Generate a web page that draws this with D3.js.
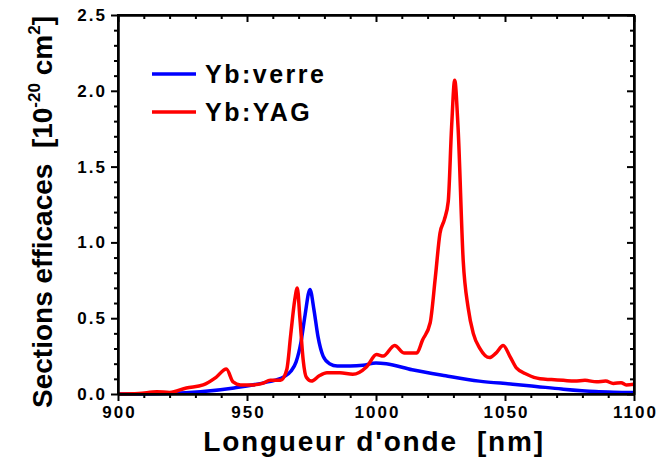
<!DOCTYPE html>
<html>
<head>
<meta charset="utf-8">
<script src="https://cdn.jsdelivr.net/npm/d3@7"></script>
<style>
body { margin: 0; background: #fff; }
text { font-family: "Liberation Sans", Arial, sans-serif; font-weight: bold; white-space: pre; }
</style>
</head>
<body>
<svg id="chart" width="660" height="463"></svg>
<script>
// Yb:verre (blue)
var verreNm  = [900, 910, 920, 932, 945, 958, 964, 967, 969, 971, 972.5, 974.4, 976, 977.5, 979.5, 982, 985, 990, 995, 1000, 1004, 1014, 1027, 1040, 1053, 1062, 1072, 1085, 1092, 1100];
var verreVal = [0, 0, 0.003, 0.015, 0.04, 0.08, 0.11, 0.15, 0.21, 0.35, 0.52, 0.69, 0.55, 0.38, 0.25, 0.2, 0.185, 0.185, 0.19, 0.205, 0.2, 0.16, 0.12, 0.085, 0.065, 0.05, 0.033, 0.016, 0.012, 0.01];

// Yb:YAG (red)
var yagNm  = [900, 908, 915, 920, 926.5, 933, 938, 942, 944.6, 947.5, 952, 956, 959, 963, 965.4, 967, 968.5, 969.5, 970.5, 971.8, 973, 975, 978, 981, 986, 991, 996.4, 1000.2, 1002.8, 1007.2, 1011, 1015.8, 1018, 1021, 1023, 1024.8, 1026.5, 1028, 1029.3, 1030.5, 1031.8, 1033.8, 1035.7, 1037.7, 1040.3, 1044, 1046.5, 1049.3, 1052, 1054.5, 1058.4, 1063.6, 1068, 1072.6, 1077, 1081, 1085.5, 1089, 1092, 1095, 1097, 1100];
var yagVal = [0, 0.003, 0.015, 0.01, 0.04, 0.06, 0.11, 0.165, 0.08, 0.06, 0.06, 0.07, 0.09, 0.09, 0.16, 0.4, 0.62, 0.7, 0.5, 0.22, 0.11, 0.085, 0.12, 0.14, 0.14, 0.13, 0.18, 0.26, 0.25, 0.32, 0.27, 0.27, 0.355, 0.47, 0.77, 1.06, 1.15, 1.27, 1.76, 2.07, 1.76, 0.88, 0.57, 0.4, 0.3, 0.24, 0.27, 0.32, 0.245, 0.17, 0.13, 0.1, 0.095, 0.09, 0.085, 0.09, 0.08, 0.085, 0.07, 0.075, 0.06, 0.065];

var xTicks = [900, 950, 1000, 1050, 1100];
var yTicks = [0, 0.5, 1.0, 1.5, 2.0, 2.5];
var legendNames = ["Yb:verre", "Yb:YAG"];
var colors = ["#0000ff", "#ff0000"];

var mLeft = 118, mRight = 634, mTop = 15, mBottom = 394;
var svg = d3.select("#chart");

var x = d3.scaleLinear().domain([900, 1100]).range([mLeft, mRight]);
var y = d3.scaleLinear().domain([0, 2.5]).range([mBottom, mTop]);

// data lines
var line = d3.line().curve(d3.curveMonotoneX).x(function(d) { return x(d[0]); }).y(function(d) { return y(d[1]); });
var series = [d3.zip(verreNm, verreVal), d3.zip(yagNm, yagVal)];
series.forEach(function(s, i) {
  svg.append("path").datum(s).attr("d", line)
    .attr("fill", "none").attr("stroke", colors[i]).attr("stroke-width", 3.5)
    .attr("stroke-linejoin", "round");
});

// axes
var minorX = d3.range(900, 1101, 10).filter(function(v) { return v % 50 != 0; });
var minorY = d3.range(0, 26, 1).map(function(v) { return v / 10; }).filter(function(v, i) { return i % 5 != 0; });

function styleAxis(g) {
  g.selectAll("path").attr("stroke", "#000").attr("stroke-width", 2);
  g.selectAll("line").attr("stroke", "#000").attr("stroke-width", 2);
  g.selectAll("text").attr("font-size", 17).attr("letter-spacing", 2).attr("fill", "#000");
}

// bottom
svg.append("g").attr("transform", "translate(0," + mBottom + ")")
  .call(d3.axisBottom(x).tickValues(minorX).tickSize(4).tickFormat("").tickSizeOuter(0)).call(styleAxis);
svg.append("g").attr("transform", "translate(0," + mBottom + ")")
  .call(d3.axisBottom(x).tickValues(xTicks).tickSize(7).tickPadding(5).tickFormat(d3.format("d")).tickSizeOuter(0)).call(styleAxis)
  .selectAll("text").attr("dx", 1);
// top
svg.append("g").attr("transform", "translate(0," + mTop + ")")
  .call(d3.axisBottom(x).tickValues(minorX).tickSize(4).tickFormat("").tickSizeOuter(0)).call(styleAxis);
svg.append("g").attr("transform", "translate(0," + mTop + ")")
  .call(d3.axisBottom(x).tickValues(xTicks).tickSize(7).tickFormat("").tickSizeOuter(0)).call(styleAxis);
// left
svg.append("g").attr("transform", "translate(" + mLeft + ",0)")
  .call(d3.axisLeft(y).tickValues(minorY).tickSize(4).tickFormat("").tickSizeOuter(0)).call(styleAxis);
svg.append("g").attr("transform", "translate(" + mLeft + ",0)")
  .call(d3.axisLeft(y).tickValues(yTicks).tickSize(7).tickPadding(6).tickFormat(d3.format(".1f")).tickSizeOuter(0)).call(styleAxis)
  .selectAll("text").attr("dx", 2);
// right
svg.append("g").attr("transform", "translate(" + mRight + ",0)")
  .call(d3.axisLeft(y).tickValues(minorY).tickSize(4).tickFormat("").tickSizeOuter(0)).call(styleAxis);
svg.append("g").attr("transform", "translate(" + mRight + ",0)")
  .call(d3.axisLeft(y).tickValues(yTicks).tickSize(7).tickFormat("").tickSizeOuter(0)).call(styleAxis);

// frame
svg.append("rect").attr("x", mLeft).attr("y", mTop).attr("width", mRight - mLeft).attr("height", mBottom - mTop)
  .attr("fill", "none").attr("stroke", "#000").attr("stroke-width", 2);

// axis titles
svg.append("text").attr("x", 374).attr("y", 451).attr("text-anchor", "middle")
  .attr("font-size", 28).attr("letter-spacing", 1.8).text("Longueur d'onde  [nm]");

var yl = svg.append("text").attr("transform", "translate(52,212) rotate(-90)")
  .attr("text-anchor", "middle").attr("font-size", 28);
yl.append("tspan").text("Sections efficaces  [10");
yl.append("tspan").attr("dy", -12).attr("font-size", 17).text("-20");
yl.append("tspan").attr("dy", 12).text(" cm");
yl.append("tspan").attr("dy", -12).attr("font-size", 17).text("2");
yl.append("tspan").attr("dy", 12).text("]");

// legend
legendNames.forEach(function(name, i) {
  var ly = 74 + i * 38;
  svg.append("line").attr("x1", 152).attr("x2", 196).attr("y1", ly).attr("y2", ly)
    .attr("stroke", colors[i]).attr("stroke-width", 3.5);
  svg.append("text").attr("x", 205).attr("y", ly + 9).attr("font-size", 25)
    .attr("letter-spacing", 2.5).text(name);
});
</script>
</body>
</html>
